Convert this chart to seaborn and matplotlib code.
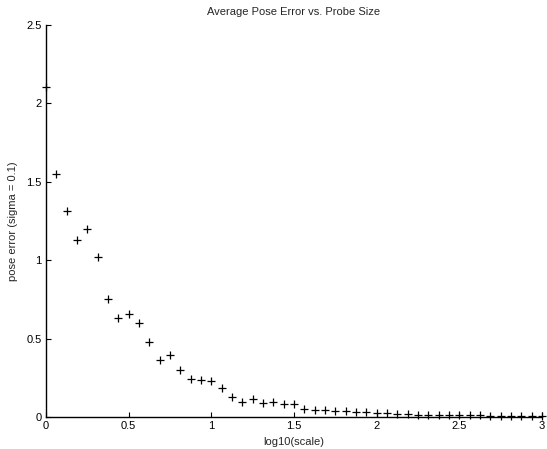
import numpy as np
import pandas as pd
import matplotlib
matplotlib.use("Agg")
import matplotlib.pyplot as plt
import seaborn as sns

# probe sizes on a log10 grid, step 1/16
log_scale = [i / 16 for i in range(49)]
pose_error = [
    2.10, 1.55, 1.31, 1.13, 1.20, 1.02, 0.75, 0.63, 0.66, 0.60,
    0.48, 0.365, 0.395, 0.30, 0.24, 0.236, 0.233, 0.187, 0.131, 0.096,
    0.113, 0.090, 0.095, 0.083, 0.083, 0.049, 0.045, 0.043, 0.041, 0.038,
    0.034, 0.032, 0.028, 0.024, 0.022, 0.018, 0.016, 0.014, 0.013, 0.012,
    0.012, 0.011, 0.011, 0.010, 0.010, 0.009, 0.009, 0.009, 0.008,
]

df = pd.DataFrame({"log_scale": log_scale, "pose_error": pose_error})

sns.set_style("ticks")
plt.rcParams["font.family"] = ["Liberation Sans", "DejaVu Sans"]

fig = plt.figure(figsize=(5.47, 4.49), dpi=100)
ax = fig.add_axes([0.084, 0.071, 0.907, 0.874])
sns.scatterplot(data=df, x="log_scale", y="pose_error", marker="+",
                color="black", s=30, linewidth=0.9, ax=ax, clip_on=False, zorder=3)

ax.set_xlim(0, 3)
ax.set_ylim(0, 2.5)
ax.set_xticks([0, 0.5, 1, 1.5, 2, 2.5, 3])
ax.set_xticklabels(["0", "0.5", "1", "1.5", "2", "2.5", "3"])
ax.set_yticks([0, 0.5, 1, 1.5, 2, 2.5])
ax.set_yticklabels(["0", "0.5", "1", "1.5", "2", "2.5"])
ax.tick_params(direction="in", length=3.5, width=0.8, labelsize=8, colors="black", pad=3)
for side in ["top", "right"]:
    ax.spines[side].set_visible(False)
for side in ["left", "bottom"]:
    ax.spines[side].set_linewidth(1.0)
    ax.spines[side].set_color("black")

ax.set_title("Average Pose Error vs. Probe Size", fontsize=8, pad=7)
ax.set_xlabel("log10(scale)", fontsize=8, labelpad=4)
ax.set_ylabel("pose error (sigma = 0.1)", fontsize=8, labelpad=6)

fig.savefig("out.png", dpi=100)
plt.close(fig)
